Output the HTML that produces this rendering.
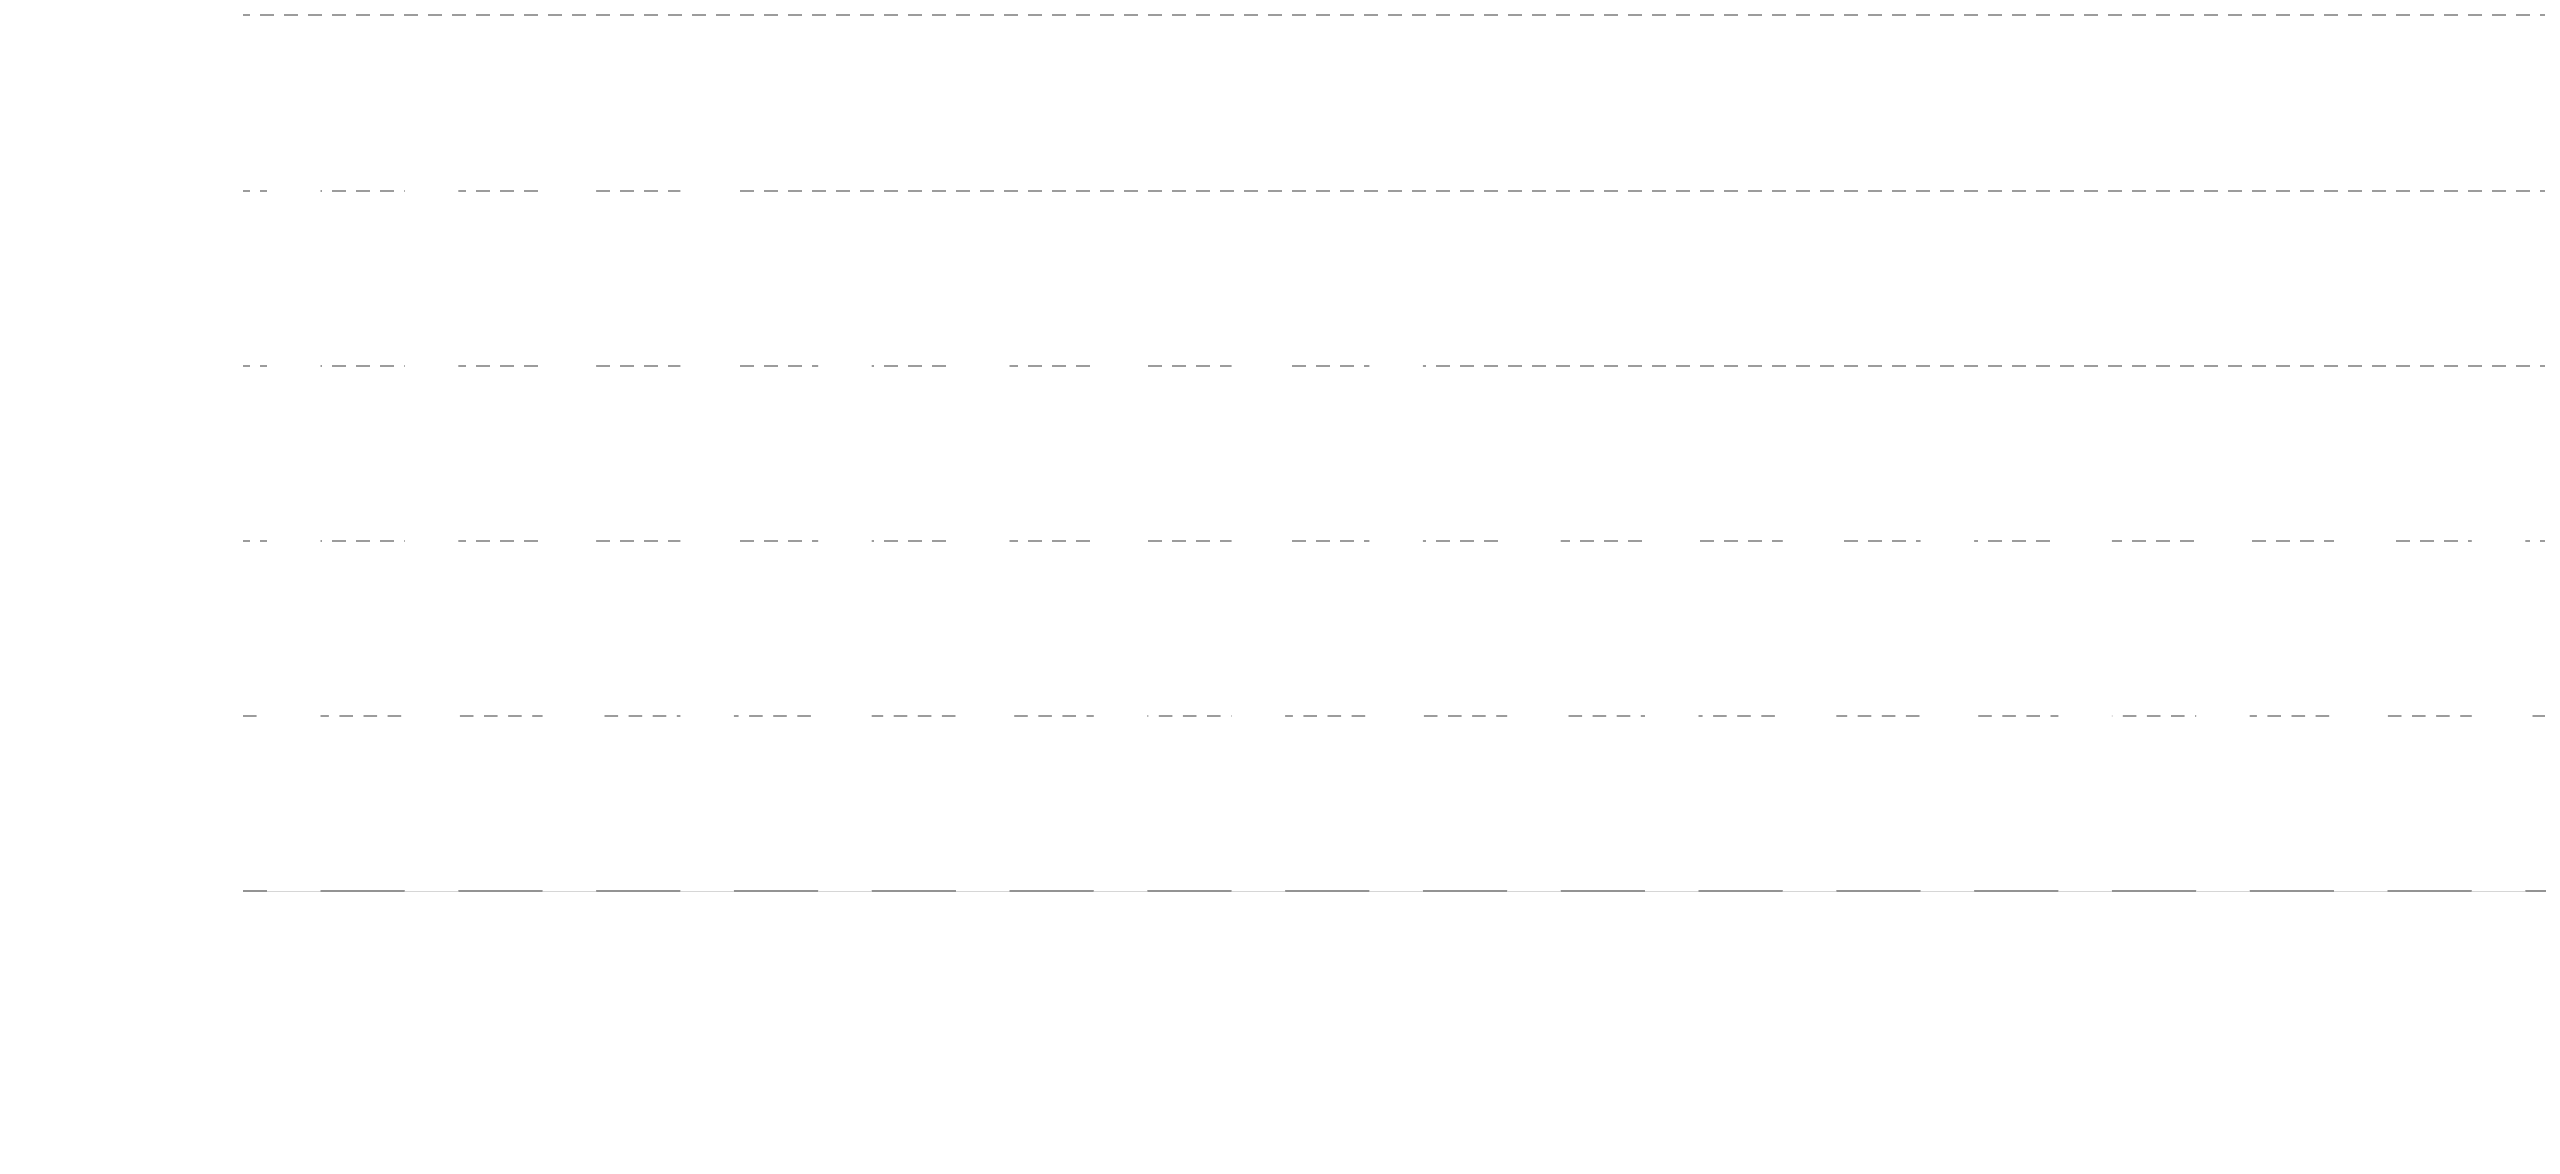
<!DOCTYPE html>
<html>
<head>
<meta charset="utf-8">
<style>
  html, body { margin: 0; padding: 0; background: #ffffff; }
  body { width: 2560px; height: 1174px; overflow: hidden; font-family: "Liberation Sans", sans-serif; }
  svg { display: block; }
</style>
</head>
<body>
<svg width="2560" height="1174" viewBox="0 0 2560 1174" xmlns="http://www.w3.org/2000/svg">
  <rect x="0" y="0" width="2560" height="1174" fill="#ffffff"/>
  <g stroke="#9c9c9c" stroke-width="2" stroke-dasharray="14 10" stroke-dashoffset="7" fill="none">
    <line x1="243" y1="15" x2="2545" y2="15"/>
    <line x1="243" y1="191" x2="2545" y2="191"/>
    <line x1="243" y1="366" x2="2545" y2="366"/>
    <line x1="243" y1="541" x2="2545" y2="541"/>
  </g>
  <line x1="243" y1="716" x2="2545" y2="716" stroke="#9c9c9c" stroke-width="2" stroke-dasharray="13.6 10.5" stroke-dashoffset="0" fill="none"/>
  <line x1="243" y1="891" x2="2546" y2="891" stroke="#939393" stroke-width="2"/>
  <g fill="#ffffff">
    <rect x="267.0" y="100" width="53.5" height="792"/>
    <rect x="404.8" y="100" width="53.5" height="792"/>
    <rect x="542.6" y="100" width="53.5" height="792"/>
    <rect x="680.4" y="100" width="53.5" height="792"/>
    <rect x="818.2" y="280" width="53.5" height="612"/>
    <rect x="956.0" y="280" width="53.5" height="612"/>
    <rect x="1093.8" y="280" width="53.5" height="612"/>
    <rect x="1231.6" y="280" width="53.5" height="612"/>
    <rect x="1369.4" y="280" width="53.5" height="612"/>
    <rect x="1507.2" y="450" width="53.5" height="442"/>
    <rect x="1645.0" y="450" width="53.5" height="442"/>
    <rect x="1782.8" y="450" width="53.5" height="442"/>
    <rect x="1920.6" y="450" width="53.5" height="442"/>
    <rect x="2058.4" y="450" width="53.5" height="442"/>
    <rect x="2196.2" y="450" width="53.5" height="442"/>
    <rect x="2334.0" y="450" width="53.5" height="442"/>
    <rect x="2471.8" y="450" width="53.5" height="442"/>
  </g>
  <g fill="#d6d6d6">
    <rect x="267.0" y="891" width="53.5" height="1"/>
    <rect x="404.8" y="891" width="53.5" height="1"/>
    <rect x="542.6" y="891" width="53.5" height="1"/>
    <rect x="680.4" y="891" width="53.5" height="1"/>
    <rect x="818.2" y="891" width="53.5" height="1"/>
    <rect x="956.0" y="891" width="53.5" height="1"/>
    <rect x="1093.8" y="891" width="53.5" height="1"/>
    <rect x="1231.6" y="891" width="53.5" height="1"/>
    <rect x="1369.4" y="891" width="53.5" height="1"/>
    <rect x="1507.2" y="891" width="53.5" height="1"/>
    <rect x="1645.0" y="891" width="53.5" height="1"/>
    <rect x="1782.8" y="891" width="53.5" height="1"/>
    <rect x="1920.6" y="891" width="53.5" height="1"/>
    <rect x="2058.4" y="891" width="53.5" height="1"/>
    <rect x="2196.2" y="891" width="53.5" height="1"/>
    <rect x="2334.0" y="891" width="53.5" height="1"/>
    <rect x="2471.8" y="891" width="53.5" height="1"/>
  </g>
</svg>
</body>
</html>
